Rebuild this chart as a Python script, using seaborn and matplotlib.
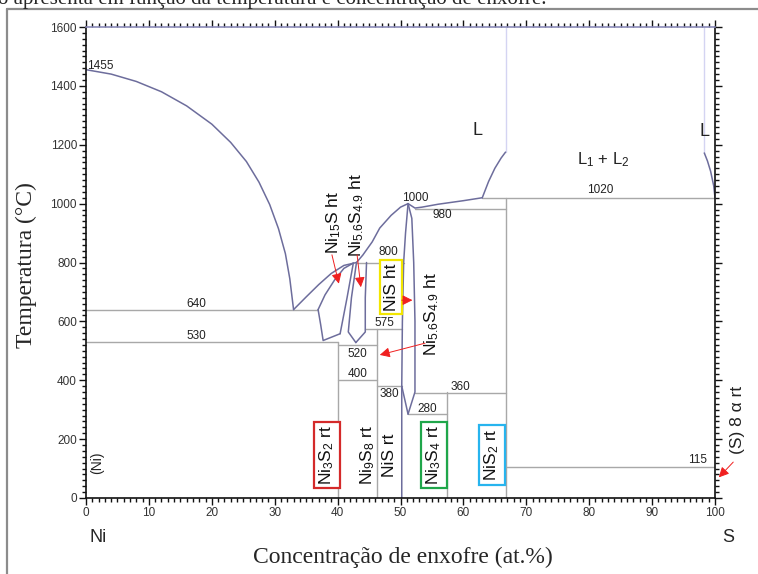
import numpy as np
import pandas as pd
import matplotlib
matplotlib.use("Agg")
import matplotlib.pyplot as plt
import seaborn as sns
from matplotlib.lines import Line2D
from matplotlib.ticker import MultipleLocator

# ---------------- data ----------------
# phase-boundary curves (x = at.% S, T = degC)
liq_ni_x = [0, 4, 8, 12, 16, 20, 23, 25.5, 27.5, 29.2, 30.6, 31.7, 32.4, 33]
liq_ni_t = [1455, 1440, 1415, 1380, 1332, 1270, 1208, 1143, 1073, 997, 915, 830, 745, 640]
liq_eu_x = [33, 35, 37, 39, 41, 43]
liq_eu_t = [640, 683, 725, 763, 790, 800]
liq_mid_x = [43, 44, 45.5, 46.7, 48.5, 50, 51.2]
liq_mid_t = [800, 825, 870, 917, 960, 988, 1000]
liq_hi_x = [51.2, 52.3, 53.4, 56, 60, 63]
liq_hi_t = [1000, 985, 988, 998, 1010, 1020]
l_left_x = [63, 64, 65, 66, 66.7]
l_left_t = [1020, 1075, 1120, 1155, 1175]
l_right_x = [100, 99.8, 99.3, 98.8, 98.3]
l_right_t = [1020, 1060, 1110, 1145, 1172]
sol_ht_x = [36.9, 38, 39.5, 41, 42.5]
sol_ht_t = [640, 690, 740, 780, 798]
ht_low_x = [36.9, 37.3, 37.7, 40.4]
ht_low_t = [640, 590, 535, 558]
ht_right_x = [42.5, 41.5, 40.4]
ht_right_t = [798, 680, 558]
ni7_left_x = [43, 42.2, 41.7, 42.9]
ni7_left_t = [800, 680, 564, 528]
ni7_right_x = [44.6, 44.4, 44.4, 42.9]
ni7_right_t = [800, 680, 564, 528]
nis_left_x = [51.2, 50.8, 50.5, 50.3, 50.2, 50.2]
nis_left_t = [1000, 900, 800, 600, 380, 0]
nis_right_x = [51.2, 51.8, 52.1, 52.3, 52.3, 51.2]
nis_right_t = [1000, 950, 800, 600, 360, 285]
nis_v_x = [50.2, 51.2]
nis_v_t = [380, 285]
# faint liquid boundaries up to the top
faint_x = [66.7, 98.3]
faint_t0 = [1175, 1172]
faint_t1 = [1600, 1600]

# invariant (horizontal) lines
iso_t = [640, 530, 520, 400, 575, 800, 380, 285, 358, 983, 1020, 107]
iso_x0 = [0, 0, 40.1, 40.1, 44.4, 43, 46.3, 51.2, 52.3, 52.3, 63, 66.7]
iso_x1 = [36.9, 40.1, 46.3, 46.3, 50.2, 50.6, 50.2, 57.4, 66.7, 66.7, 100, 100]
# compound (vertical) lines
comp_x = [40.1, 46.3, 57.4, 66.7]
comp_top = [530, 575, 360, 1020]

# temperature annotations
num_text = ["1455", "640", "530", "800", "575", "520", "400", "380",
            "280", "360", "980", "1000", "1020", "115"]
num_x = [0.2, 17.6, 17.6, 48.0, 47.5, 43.2, 43.2, 48.2, 54.2, 59.5, 56.6, 52.3, 81.7, 97.3]
num_t = [1467, 660, 552, 834, 594, 490, 421, 352, 302, 378, 960, 1020, 1046, 128]

# phase labels (vertical)
ph_text = ["Ni$_3$S$_2$ rt", "Ni$_9$S$_8$ rt", "NiS rt", "Ni$_3$S$_4$ rt", "NiS$_2$ rt",
           "NiS ht", "Ni$_{15}$S ht", "Ni$_{5.6}$S$_{4.9}$ ht", "Ni$_{5.6}$S$_{4.9}$ ht"]
ph_x = [38.3, 44.8, 48.3, 55.3, 64.5, 48.5, 39.3, 43.1, 55.0]
ph_t = [146, 146, 146, 146, 146, 717, 935, 962, 625]
ph_box = ["#d42a2a", None, None, "#1fa64a", "#27b4ee", "#f2e600", None, None, None]

# red arrows (tail -> head)
arr_x0 = [50.2, 39.1, 43.1, 53.9, 102.9]
arr_t0 = [672, 826, 826, 526, 122]
arr_x1 = [51.9, 40.2, 43.7, 46.7, 100.6]
arr_t1 = [672, 728, 716, 486, 70]

# ---------------- style ----------------
sns.set_style("ticks")
plt.rcParams["font.family"] = ["Liberation Sans", "DejaVu Sans"]
plt.rcParams["mathtext.fontset"] = "custom"
plt.rcParams["mathtext.rm"] = "Liberation Sans"
plt.rcParams["mathtext.it"] = "Liberation Sans:italic"
plt.rcParams["mathtext.bf"] = "Liberation Sans:bold"

CURVE = "#6d6d9c"
GRAY = "#a8a8a8"
FAINT = "#d4d4f2"

fig = plt.figure(figsize=(7.58, 5.74), dpi=100)
ax = fig.add_axes([86 / 758, 1 - 498 / 574, (715 - 86) / 758, (498 - 27) / 574])


def seg_frame(xs, ts):
    rows = []
    for i, (xx, tt) in enumerate(zip(xs, ts)):
        for a, b in zip(xx, tt):
            rows.append((i, a, b))
    return pd.DataFrame(rows, columns=["seg", "x", "T"])


# gray straight lines
hv_x = [[a, b] for a, b in zip(iso_x0, iso_x1)] + [[c, c] for c in comp_x]
hv_t = [[t, t] for t in iso_t] + [[0, t] for t in comp_top]
sns.lineplot(data=seg_frame(hv_x, hv_t), x="x", y="T", units="seg", estimator=None,
             sort=False, color=GRAY, lw=1.0, ax=ax)

# faint verticals
fx = [[x, x] for x in faint_x]
ft = [[a, b] for a, b in zip(faint_t0, faint_t1)]
sns.lineplot(data=seg_frame(fx, ft), x="x", y="T", units="seg", estimator=None,
             sort=False, color=FAINT, lw=1.0, ax=ax)

# curves
cx = [liq_ni_x, liq_eu_x, liq_mid_x, liq_hi_x, l_left_x, l_right_x, sol_ht_x,
      ht_low_x, ht_right_x, ni7_left_x, ni7_right_x, nis_left_x, nis_right_x, nis_v_x]
ct = [liq_ni_t, liq_eu_t, liq_mid_t, liq_hi_t, l_left_t, l_right_t, sol_ht_t,
      ht_low_t, ht_right_t, ni7_left_t, ni7_right_t, nis_left_t, nis_right_t, nis_v_t]
sns.lineplot(data=seg_frame(cx, ct), x="x", y="T", units="seg", estimator=None,
             sort=False, color=CURVE, lw=1.1, ax=ax)
for ln in ax.lines:
    ln.set_solid_joinstyle("round")

ax.set_xlim(0, 100)
ax.set_ylim(0, 1600)
ax.set_xlabel("")
ax.set_ylabel("")
ax.xaxis.set_major_locator(MultipleLocator(10))
ax.xaxis.set_minor_locator(MultipleLocator(1))
ax.yaxis.set_major_locator(MultipleLocator(200))
ax.yaxis.set_minor_locator(MultipleLocator(20))
ax.tick_params(which="both", direction="out", top=True, right=True,
               labeltop=False, labelright=False, color="#111111", width=1.0)
ax.tick_params(which="major", length=5, labelsize=8.5, labelcolor="#333333", pad=1.5)
ax.tick_params(which="minor", length=3)
for s in ax.spines.values():
    s.set_visible(True)
    s.set_color("#111111")
    s.set_linewidth(1.2)
ax.spines["top"].set_color("#8a8ab8")

# temperature numbers
for s, x, t in zip(num_text, num_x, num_t):
    ha = "left" if s == "1455" else "center"
    ax.text(x, t, s, ha=ha, va="center", fontsize=8.5, color="#222222")

# L labels
ax.text(62.3, 1250, "L", ha="center", va="center", fontsize=13, color="#222222")
ax.text(98.4, 1245, "L", ha="center", va="center", fontsize=13, color="#222222")
ax.text(82.2, 1150, "L$_1$ + L$_2$", ha="center", va="center", fontsize=12, color="#222222")
ax.text(1.7, 120, "(Ni)", rotation=90, ha="center", va="center", fontsize=10, color="#222222")
ax.text(103.6, 265, "(S) 8 α rt", rotation=90, ha="center", va="center", fontsize=12.5,
        color="#222222", clip_on=False)

# phase labels
for s, x, t, bc in zip(ph_text, ph_x, ph_t, ph_box):
    kw = {}
    if bc is not None:
        kw["bbox"] = dict(boxstyle="square,pad=0.2", fc="white", ec=bc, lw=1.6)
    ax.text(x, t, s, rotation=90, ha="center", va="center", fontsize=12.5,
            color="#111111", **kw)

# arrows
for x0, t0, x1, t1 in zip(arr_x0, arr_t0, arr_x1, arr_t1):
    ax.annotate("", xy=(x1, t1), xytext=(x0, t0), annotation_clip=False,
                arrowprops=dict(arrowstyle="-|>,head_length=0.6,head_width=0.3",
                                color="#f02020", lw=0.7, shrinkA=0, shrinkB=0))

# axis titles
fig.text(26 / 758, 1 - 265 / 574, "Temperatura (°C)", rotation=90, ha="center",
         va="center", fontsize=17, family=["Liberation Serif", "DejaVu Serif"])
fig.text(403 / 758, 1 - 557 / 574, "Concentração de enxofre (at.%)", ha="center",
         va="center", fontsize=17, family=["Liberation Serif", "DejaVu Serif"])
fig.text(98 / 758, 1 - 537 / 574, "Ni", ha="center", va="center", fontsize=13)
fig.text(728 / 758, 1 - 537 / 574, "S", ha="center", va="center", fontsize=13)

# page context: cut-off sentence and frame
fig.text(-2 / 758, 1 - 4 / 574, "o apresenta em função da temperatura e concentração de enxofre.",
         ha="left", va="baseline", fontsize=15, family=["Liberation Serif", "DejaVu Serif"])
fig.add_artist(Line2D([7 / 758, 7 / 758], [0, 1 - 9 / 574], color="#8c8c8c", lw=1.6))
fig.add_artist(Line2D([7 / 758, 1], [1 - 9 / 574, 1 - 9 / 574], color="#8c8c8c", lw=1.6))

fig.savefig("out.png", dpi=100)
